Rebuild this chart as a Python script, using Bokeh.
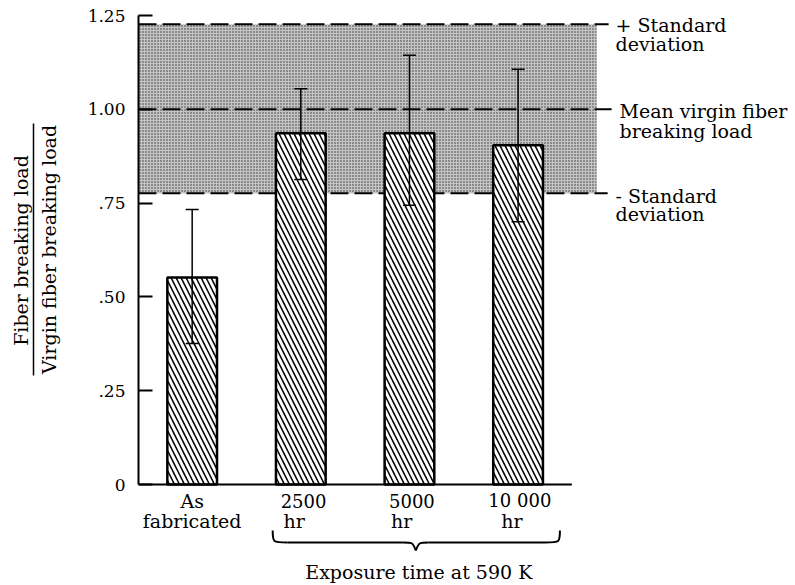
import math
from bokeh.plotting import figure
from bokeh.models import Range1d, FixedTicker, ColumnDataSource, Whisker, TeeHead
from bokeh.layouts import row
from bokeh.core.properties import value
from bokeh.embed import file_html
from bokeh.resources import INLINE

# ---------------- data ----------------
categories = ["As fabricated", "2500 hr", "5000 hr", "10 000 hr"]
ratio = [0.552, 0.936, 0.936, 0.904]
err_low = [0.376, 0.813, 0.744, 0.700]
err_high = [0.733, 1.055, 1.144, 1.107]
virgin_mean = 1.0
sd_upper = 1.227
sd_lower = 0.776
y_ticks = [0, 0.25, 0.5, 0.75, 1.0, 1.25]
y_tick_labels = ["0", ".25", ".50", ".75", "1.00", "1.25"]

FONT = "DejaVu Serif"

# page-pixel -> data helpers (for layout of annotations)
def X(px):
    return 1 + (px - 188) / 109.3

def Y(py):
    return (484 - py) * 1.25 / 469

W_LEFT = 84
W_MAIN = 795 - W_LEFT
H = 585

# ---------------- left panel: y-axis fraction label ----------------
lp = figure(width=W_LEFT, height=H, output_backend="svg", toolbar_location=None,
            x_range=Range1d(0, W_LEFT), y_range=Range1d(H, 0),
            min_border=0, min_border_left=0, min_border_right=0,
            min_border_top=0, min_border_bottom=0)
lp.axis.visible = False
lp.grid.visible = False
lp.outline_line_color = None
lp.text(x=[20], y=[250], text=["Fiber breaking load"], angle=math.pi / 2,
        text_align="center", text_baseline="middle", text_font=value(FONT),
        text_font_size="19px", text_color="black")
lp.text(x=[48], y=[249], text=["Virgin fiber breaking load"], angle=math.pi / 2,
        text_align="center", text_baseline="middle", text_font=value(FONT),
        text_font_size="19px", text_color="black")
lp.segment(x0=[33], y0=[123], x1=[33], y1=[375], line_color="black", line_width=1.5)

# ---------------- main panel ----------------
x0 = X(134)
x1 = X(795)
p = figure(width=W_MAIN, height=H, output_backend="svg", toolbar_location=None,
           x_range=Range1d(x0, x1), y_range=Range1d(Y(H), Y(0)),
           x_axis_location=None,
           min_border=0, min_border_left=50, min_border_right=0,
           min_border_top=0, min_border_bottom=0)
p.grid.visible = False
p.outline_line_color = None
p.background_fill_color = "white"

ax = p.yaxis[0]
ax.ticker = FixedTicker(ticks=y_ticks)
ax.major_label_overrides = {t: l for t, l in zip(y_ticks, y_tick_labels)}
ax.bounds = (0, 1.25)
ax.major_tick_in = 14
ax.major_tick_out = 0
ax.minor_tick_in = 0
ax.minor_tick_out = 0
ax.major_tick_line_width = 2
ax.axis_line_width = 2
ax.major_label_standoff = 13
ax.major_label_text_font = FONT
ax.major_label_text_font_size = "17px"
ax.major_label_text_color = "black"

# shaded band (standard deviation of virgin fibre)
p.quad(left=[x0], right=[X(595)], bottom=[sd_lower], top=[sd_upper],
       fill_color="#c4c4c4", line_color=None,
       hatch_pattern="dot", hatch_scale=3, hatch_color="#333333", hatch_weight=1)

# dashed reference lines
for yv, xe in [(sd_upper, X(607)), (virgin_mean, X(610)), (sd_lower, X(606))]:
    p.segment(x0=[x0], y0=[yv], x1=[xe], y1=[yv], line_color="black",
              line_width=2, line_dash="18 6")

# bars
xs = [i + 1 for i in range(len(categories))]
src = ColumnDataSource(dict(x=xs, top=ratio, lower=err_low, upper=err_high))
p.vbar(x="x", top="top", bottom=0, width=50 / 109.3, source=src,
       fill_color="white", line_color="black", line_width=2.5,
       hatch_pattern="\\", hatch_scale=10, hatch_color="black", hatch_weight=1.5)

# baseline
p.segment(x0=[x0], y0=[0], x1=[X(570)], y1=[0], line_color="black", line_width=2)

# error bars
wh = Whisker(source=src, base="x", lower="lower", upper="upper",
             line_color="black", line_width=1.5, level="overlay",
             upper_head=TeeHead(size=13, line_width=1.5, line_color="black"),
             lower_head=TeeHead(size=13, line_width=1.5, line_color="black"))
p.add_layout(wh)

def txt(xp, yp, s, align="left", size="19px"):
    p.text(x=[X(xp)], y=[Y(yp)], text=[s], text_align=align, text_baseline="middle",
           text_font=value(FONT), text_font_size=size, text_color="black")

# category labels
txt(188, 500, "As", "center")
txt(188, 520, "fabricated", "center")
txt(277, 500, "2500", size="18px")
txt(280, 520, "hr")
txt(386, 500, "5000", size="18px")
txt(388, 520, "hr")
txt(486, 500, "10 000", size="18px")
txt(499, 520, "hr")

# brace
bx = [[269, 530, 284, 542, 269, 542],
      [400, 542, 413, 550, 410, 542],
      [426, 542, 413, 550, 416, 542],
      [543, 542, 558, 530, 558, 542]]
p.bezier(x0=[X(b[0]) for b in bx], y0=[Y(b[1]) for b in bx],
         x1=[X(b[2]) for b in bx], y1=[Y(b[3]) for b in bx],
         cx0=[X(b[4]) for b in bx], cy0=[Y(b[5]) for b in bx],
         cx1=[X(b[4]) for b in bx], cy1=[Y(b[5]) for b in bx],
         line_color="black", line_width=2)
p.segment(x0=[X(284), X(426)], y0=[Y(542), Y(542)], x1=[X(400), X(543)],
          y1=[Y(542), Y(542)], line_color="black", line_width=2)
txt(416, 571, "Exposure time at 590 K", "center")

# right annotations
txt(614, 24, "+ Standard")
txt(614, 43, "deviation")
txt(618, 110, "Mean virgin fiber")
txt(618, 130, "breaking load")
txt(614, 195, "-  Standard")
txt(614, 213, "deviation")

layout = row(lp, p, spacing=0)
open("out.html", "w").write(file_html(layout, INLINE))
